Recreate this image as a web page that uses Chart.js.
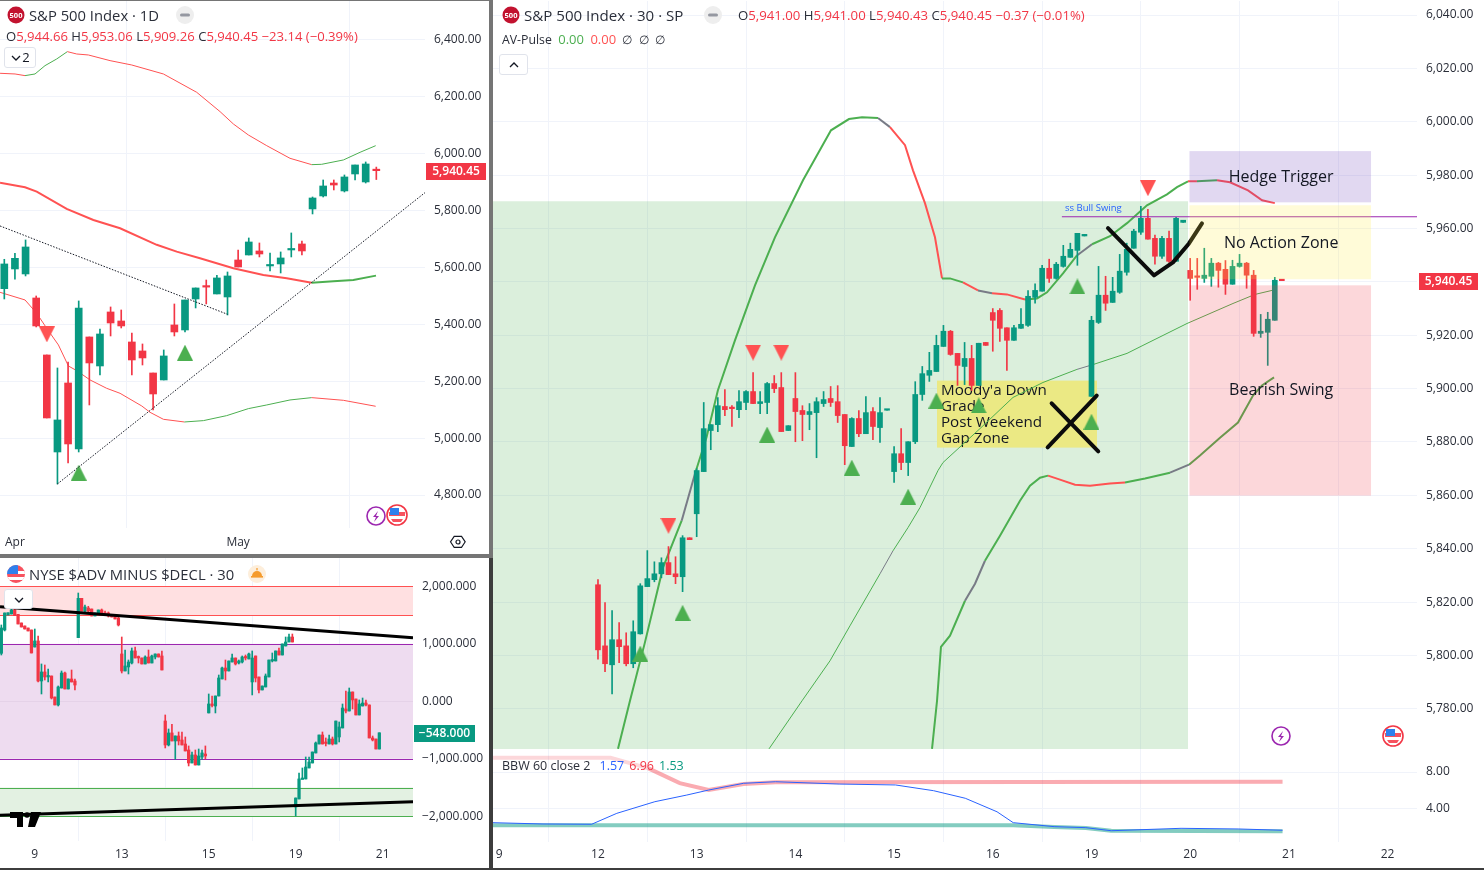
<!DOCTYPE html>
<html>
<head>
<meta charset="utf-8">
<script src="https://cdn.jsdelivr.net/npm/chart.js@4/dist/chart.umd.js"></script>
<style>
  html, body { margin: 0; padding: 0; width: 1484px; height: 870px; overflow: hidden; background: #3d3d3d; font-family: "Open Sans", "Noto Sans", sans-serif; }
  .panel { position: absolute; background: #fff; }
  .edge { position: absolute; background: #757575; }
  canvas { position: absolute; }
  .t { position: absolute; white-space: nowrap; color: #131722; line-height: 16px; }
  .big { font-size: 14.8px; color: #2a2e39; }
  .ohlc { font-size: 13.2px; color: #f23645; }
  .ohlc b { font-weight: 400; color: #2a2e39; }
  .btn { position: absolute; background: #fff; border: 1px solid #e0e3eb; border-radius: 3px; box-sizing: border-box; font-size: 13px; color: #131722; text-align: center; }
  svg { position: absolute; overflow: visible; }
</style>
</head>
<body>
<div class="edge" style="left:0;top:0;width:493px;height:1px"></div>
<div class="edge" style="left:489px;top:0;width:4px;height:558px"></div>
<div class="edge" style="left:0;top:554px;width:489px;height:4px"></div>
<div class="panel" style="left:0;top:1px;width:489px;height:553px"></div>
<div class="panel" style="left:0;top:558px;width:489px;height:310px"></div>
<div class="panel" style="left:493px;top:0;width:991px;height:868px"></div>

<canvas id="dayChart" width="489" height="553" style="left:0;top:1px"></canvas>
<canvas id="nyseChart" width="489" height="310" style="left:0;top:558px"></canvas>
<canvas id="mainChart" width="991" height="748" style="left:493px;top:1px"></canvas>
<canvas id="bbwChart" width="991" height="119" style="left:493px;top:749px"></canvas>

<!-- top left legend -->
<svg style="left:7px;top:6px" width="18" height="18"><circle cx="9" cy="9" r="8.5" fill="#c2122f"/><text x="9" y="12" font-size="7.5" font-weight="700" fill="#fff" text-anchor="middle" font-family="Open Sans">500</text></svg>
<div class="t big" style="left:29px;top:7px">S&amp;P 500 Index · 1D</div>
<svg style="left:176px;top:6px" width="18" height="18"><circle cx="9" cy="9" r="9" fill="#eeeeee"/><rect x="4" y="7.5" width="10" height="3" rx="1.5" fill="#9598a1"/></svg>
<div class="t ohlc" style="left:6px;top:28px;font-size:13.1px"><b>O</b>5,944.66 <b>H</b>5,953.06 <b>L</b>5,909.26 <b>C</b>5,940.45 −23.14 (−0.39%)</div>
<div class="btn" style="left:4px;top:47px;width:32px;height:21px;line-height:19px">
  <svg style="left:6px;top:7px" width="10" height="6"><path d="M1 1l4 4 4-4" fill="none" stroke="#131722" stroke-width="1.3"/></svg><span style="margin-left:12px">2</span></div>
<svg style="left:366px;top:505px" width="20" height="22"><circle cx="10" cy="11" r="9" fill="#fff" stroke="#9c27b0" stroke-width="1.6"/><path d="M12 6l-5 6h3l-2 5 5-6h-3z" fill="#9c27b0"/></svg>
<svg id="flagA" style="left:386px;top:504px" width="22" height="22"><circle cx="11" cy="11" r="10" fill="#fff" stroke="#f23645" stroke-width="1.6"/><rect x="3" y="8" width="16" height="4" fill="#f7525f"/><path d="M5 15h12l-2 3h-8z" fill="#f7525f"/><rect x="4" y="4" width="9" height="7" fill="#2f80ed"/></svg>
<svg style="left:450px;top:534px" width="16" height="16"><path d="M4 2h8l4 6-4 6h-8l-4-6z" transform="translate(.5 .5) scale(.92)" fill="none" stroke="#131722" stroke-width="1.2"/><circle cx="8" cy="8" r="2" fill="none" stroke="#131722" stroke-width="1.2"/></svg>

<!-- bottom left legend -->
<svg style="left:7px;top:565px" width="18" height="18"><clipPath id="fc"><circle cx="9" cy="9" r="9"/></clipPath><g clip-path="url(#fc)"><rect width="18" height="18" fill="#f7525f"/><rect y="6" width="18" height="3" fill="#fff"/><rect y="12" width="18" height="3" fill="#fff"/><rect width="11" height="9" fill="#2f80ed"/></g></svg>
<div class="t big" style="left:29px;top:566px">NYSE $ADV MINUS $DECL · 30</div>
<svg style="left:248px;top:565px" width="18" height="18"><circle cx="9" cy="9" r="9" fill="#fdeedb"/><path d="M4 11a5 5 0 0 1 10 0z" fill="#f59b2c"/><rect x="3" y="11" width="12" height="1.6" fill="#f59b2c"/><rect x="8.4" y="3" width="1.2" height="2.4" fill="#f59b2c"/></svg>
<div class="btn" style="left:4px;top:589px;width:29px;height:20px">
  <svg style="left:9px;top:7px" width="10" height="6"><path d="M1 1l4 4 4-4" fill="none" stroke="#131722" stroke-width="1.3"/></svg></div>
<svg style="left:10px;top:812px" width="31" height="15"><path d="M0 0h13v15h-6v-9h-7z M21 0h10l-6 15h-7z" fill="#000"/><circle cx="17" cy="3" r="2.8" fill="#000"/></svg>

<!-- main legend -->
<svg style="left:502px;top:6px" width="18" height="18"><circle cx="9" cy="9" r="8.5" fill="#c2122f"/><text x="9" y="12" font-size="7.5" font-weight="700" fill="#fff" text-anchor="middle" font-family="Open Sans">500</text></svg>
<div class="t big" style="left:524px;top:7px;font-size:15.1px">S&amp;P 500 Index · 30 · SP</div>
<svg style="left:704px;top:6px" width="18" height="18"><circle cx="9" cy="9" r="9" fill="#eeeeee"/><rect x="4" y="7.5" width="10" height="3" rx="1.5" fill="#9598a1"/></svg>
<div class="t ohlc" style="left:738px;top:7px"><b>O</b>5,941.00 <b>H</b>5,941.00 <b>L</b>5,940.43 <b>C</b>5,940.45 −0.37 (−0.01%)</div>
<div class="t" style="left:502px;top:31px;font-size:12.3px;color:#2a2e39">AV-Pulse&nbsp; <span style="color:#4caf50;font-size:13px">0.00</span>&nbsp; <span style="color:#ff5252;font-size:13px">0.00</span>&nbsp; ∅&nbsp; ∅&nbsp; ∅</div>
<div class="btn" style="left:499px;top:54px;width:29px;height:21px">
  <svg style="left:9px;top:7px" width="10" height="6"><path d="M1 5l4-4 4 4" fill="none" stroke="#131722" stroke-width="1.3"/></svg></div>
<svg style="left:1271px;top:725px" width="20" height="22"><circle cx="10" cy="11" r="9" fill="#fff" stroke="#9c27b0" stroke-width="1.6"/><path d="M12 6l-5 6h3l-2 5 5-6h-3z" fill="#9c27b0"/></svg>
<svg style="left:1382px;top:725px" width="22" height="22"><circle cx="11" cy="11" r="10" fill="#fff" stroke="#f23645" stroke-width="1.6"/><rect x="3" y="8" width="16" height="4" fill="#f7525f"/><path d="M5 15h12l-2 3h-8z" fill="#f7525f"/><rect x="4" y="4" width="9" height="7" fill="#2f80ed"/></svg>
<div class="t" style="left:502px;top:758px;font-size:12.5px;color:#2a2e39">BBW 60 close 2<span style="color:#2962ff;margin-left:9px">1.57</span><span style="color:#f23645;margin-left:5px">6.96</span><span style="color:#089981;margin-left:5px">1.53</span></div>

<script>
const GREEN = '#089981', RED = '#f23645';
const LINE_GREEN = '#4caf50', LINE_RED = '#ff5252', LINE_GRAY = '#787b86';
const GRID = '#f0f3fa';
const FONT = '"Open Sans", "Noto Sans", sans-serif';

// ---- daily chart (top left)
const dayOpen  = [5525.6,5594.8,5577.2,5492.8,5292.4,4951.3,5193.9,4961.9,5355.7,5253.7,5443.6,5411.9,5338.1,5306.5,5229.1,5204.5,5397.9,5380.3,5489.3,5531.5,5506.9,5496.3,5626.4,5644,5658.1,5605.3,5612.4,5661.6,5682.7,5805.8,5851.5,5897,5869.1,5928.8,5900.7,5944.66];
const dayHigh  = [5628.8,5649.9,5696.8,5499.8,5292.4,5246.7,5267.8,5482.3,5355.7,5383.8,5461.2,5450.6,5369.8,5331.1,5229.1,5310,5471.7,5485.8,5528,5556,5572.5,5584.2,5661.6,5703.8,5686.2,5651,5654.6,5721.4,5693.2,5847.9,5907.7,5907.7,5925.3,5960.5,5971,5953.06];
const dayLow   = [5489.3,5558.5,5570.2,5390.9,5070.9,4838.8,4912.7,4951.3,5116.6,5222.1,5359.2,5387.3,5222.1,5257.2,5099,5204.5,5359.2,5373.3,5457.7,5471.7,5506.9,5433,5601.8,5644,5637,5587.8,5580.7,5637,5644,5788.2,5847.9,5872.6,5865.5,5907.7,5897,5909.26];
const dayClose = [5612.4,5632.3,5672.1,5394.4,5070.9,5063.9,4979.5,5457.6,5264.3,5366.2,5404.9,5394.4,5274.8,5281.9,5155.3,5288.9,5373.3,5485.8,5528,5531,5563.2,5570.2,5601.8,5689.7,5647.5,5609,5633.5,5665,5658.1,5844.4,5886.6,5890,5918.3,5960.5,5964,5940.45];
const dayTickIdx = [1, 22];
const dayTickLabels = ['Apr', 'May'];
const dayPriceTicks = [4800, 5000, 5200, 5400, 5600, 5800, 6000, 6200, 6400];
const dayUpperIdx = [-0.4,1.01,1.95,2.89,3.83,4.93,5.93,6.81,7.91,9.95,11.99,14.97,18.1,20.3,21.55,22.96,24.69,26.88,28.92,29.86,31.9,33.47,34.94];
const dayUpperVal = [6282.8,6280.4,6274.6,6280.4,6309.7,6333.2,6358.9,6350.7,6347.2,6327.3,6312,6280.4,6216,6148,6104.6,6065.9,6028.3,5983.9,5961.6,5962.8,5978,6005,6028.3];
const dayMidIdx = [-0.4,1.95,3.05,5.87,8.38,10.89,14.34,16.22,18.41,21.55,24.37,26.57,28.92,30.96,32.84,34.97];
const dayMidVal = [5898.3,5881.9,5866.7,5805.8,5767,5737.8,5679.8,5655.7,5632.3,5597.1,5573.7,5562,5546.7,5552,5556,5571.4];
const dayLowerIdx = [-0.4,1.95,3.05,3.99,5.09,6.03,6.81,8.07,9.63,10.89,12.93,13.71,14.97,16.94,18.73,20.92,22.96,24.69,26.88,28.92,31.9,34.94];
const dayLowerVal = [5512.7,5485.8,5438.9,5386.2,5327.6,5253.7,5237.3,5204.5,5175.2,5157.6,5113.1,5090.8,5066.2,5056.8,5061.5,5079.1,5103.7,5116.6,5134.2,5142.4,5133,5112];
const dayTrendUpIdx = [4.99, 39.58];
const dayTrendUpVal = [4838.8, 5863.2];
const dayTrendDownIdx = [-0.4, 21];
const dayTrendDownVal = [5746, 5435.4];
const dayBuyIdx = [7, 17];
const dayBuyVal = [4878.7, 5300.6];
const daySellIdx = [4];
const daySellVal = [5365];

// ---- breadth chart (bottom left)
const nyseOpen  = [834,1240,1500,1518,1588,1512,1362,1310,1275,1240,944,1049,353,510,423,440,75,-64,231,492,214,388,353,1107,1791,1570,1623,1605,1484,1518,1588,1536,1536,1501,1484,1449,823,527,597,666,875,770,753,649,770,666,770,823,788,-343,-760,-551,-690,-603,-673,-743,-847,-1073,-934,-1108,-969,-917,-203,-47,-82,92,388,579,527,683,753,666,683,770,736,336,788,423,197,249,423,701,701,875,805,962,1031,1118,-1838,-1699,-1351,-1351,-1160,-1073,-899,-743,-586,-708,-743,-656,-743,-621,-464,-134,-169,162,40,-238,-82,-30,-64,-638,-656,-830];
const nyseHigh  = [1327,1536,1540,1620,1600,1512,1362,1310,1275,1240,1257,1136,649,631,562,440,75,266,527,510,388,544,388,1883,1791,1675,1652,1605,1536,1588,1605,1570,1553,1501,1501,1466,1118,892,718,927,944,788,753,790,892,805,823,823,875,-238,-482,-401,-603,-534,-534,-621,-777,-882,-847,-830,-847,-777,127,92,92,457,597,718,701,823,753,718,788,805,840,875,788,423,266,475,718,840,875,927,997,1118,1170,1170,-1682,-1247,-1160,-969,-969,-882,-708,-586,-534,-638,-586,-621,-343,-360,-47,179,231,162,40,23,57,23,-64,-604,-656,-548];
const nyseLow   = [805,1223,1500,1518,1489,1344,1292,1257,1223,840,944,336,127,370,336,40,-64,-82,231,214,214,336,197,1107,1570,1536,1536,1484,1484,1518,1518,1501,1466,1466,1431,1310,492,527,475,649,753,666,649,649,666,666,736,770,544,-812,-777,-690,-1009,-760,-760,-864,-1125,-1073,-1108,-1108,-1009,-1003,-203,-99,-203,92,388,370,527,683,631,649,666,718,736,110,336,144,197,249,423,684,701,805,805,962,1031,1031,-1995,-1699,-1351,-1351,-1160,-1073,-899,-743,-743,-777,-743,-760,-743,-708,-464,-204,-169,-134,-238,-238,-82,-82,-638,-690,-830,-830];
const nyseClose = [1275,1536,1540,1588,1489,1344,1292,1257,1223,840,1049,353,510,423,440,57,-64,249,492,214,388,336,283,1791,1570,1640,1570,1484,1536,1588,1518,1501,1484,1466,1431,1327,527,614,683,875,753,753,649,770,666,788,823,770,544,-760,-551,-690,-603,-690,-760,-864,-1073,-934,-1108,-951,-899,-951,-47,-64,92,405,579,527,701,753,649,701,770,753,823,753,405,197,266,440,718,718,875,805,997,1031,1118,1031,-1682,-1351,-1334,-1143,-1056,-882,-725,-586,-743,-725,-656,-743,-343,-447,-117,-169,162,23,-238,-47,-30,-64,-638,-673,-830,-548];
const nyseFirstIdx = -36;
const nyseTickIdx = [-26, 0, 26, 52, 78];
const nyseTickLabels = ['9', '13', '15', '19', '21'];
const nyseValueTicks = [-2000, -1000, 0, 1000, 2000];
const nyseCeilIdx = [-36.4, 87.07];
const nyseCeilVal = [1645, 1106];
const nyseFloorIdx = [-36.4, 87.07];
const nyseFloorVal = [-1983, -1746];

// ---- 30 min chart (right)
const mainOpen  = [5826.5,5803.6,5796.5,5805.9,5803.6,5796.9,5808.1,5825.8,5828.4,5830.6,5834.8,5830.6,5829.5,5844.1,5853.1,5868.9,5884.3,5886.5,5893.3,5892.9,5892.1,5894.8,5898.9,5894.4,5894.8,5901.9,5900.4,5884.3,5896.3,5891.8,5890.3,5891,5894.4,5896.3,5895.1,5890.3,5878.3,5888.8,5883.1,5891.4,5885.4,5891.9,5868.9,5875.6,5872.3,5880.1,5897.8,5905,5906.4,5915.8,5921.5,5913.2,5908.3,5911.3,5901.2,5917.3,5928.5,5929.3,5922.8,5918.1,5922.6,5923.7,5934.2,5936.5,5945.1,5941.3,5945.8,5949.2,5951.8,5957.2,5897.1,5924.8,5935,5932.3,5936.1,5943.6,5952.6,5958.6,5963.8,5956.3,5949.6,5956.3,5947.7,5962.3,5944.3,5942.1,5941.3,5942.1,5947,5944.7,5939.1,5945.8,5947,5942.5,5920.7,5921.1,5925.6,5940.7];
const mainHigh  = [5828.4,5819.8,5816.8,5812.3,5808.5,5813,5826.9,5839.3,5835.1,5836.6,5840.8,5837,5844.9,5844.1,5870,5894.8,5886.5,5896.6,5899.6,5893.6,5899.3,5899.3,5906,5898.9,5902.3,5904.9,5906,5886.1,5906,5893.6,5894.4,5896.6,5898.9,5900.8,5901.1,5890.3,5889.1,5891.8,5897,5892.9,5896.6,5892.1,5878.3,5885,5880.1,5902.6,5908.3,5913.6,5920,5923.7,5921.8,5913.2,5917.3,5916.2,5917,5917.3,5930,5930,5922.8,5923.7,5930,5936.7,5939.3,5946.2,5948.5,5947.3,5953.7,5954.5,5958.2,5957.8,5927.1,5945.8,5942.1,5941.7,5950.3,5954.5,5959.7,5968.3,5967.2,5957.5,5957.1,5959,5964.2,5963.1,5948.8,5948.8,5952.6,5948.8,5947.3,5948,5948.1,5950.3,5947.3,5944.3,5927.8,5928.6,5941.7,5940.7];
const mainLow   = [5798.6,5793.9,5785.6,5797.3,5796.1,5795.4,5808,5825.8,5827.6,5829.1,5830.3,5826.9,5823.9,5843.4,5844.5,5868.9,5877.1,5883.9,5889.9,5885.8,5889.1,5892.1,5894.4,5890.6,5890.6,5898.5,5883.9,5884.3,5880.1,5880.5,5884.6,5874.1,5893.3,5893.3,5887.3,5871.5,5878.3,5882,5883.1,5880.9,5879.8,5891.9,5864.8,5869.6,5867.4,5879.4,5895.6,5902.7,5906.4,5915.8,5912.5,5901.2,5901.5,5899.3,5901.2,5916.2,5914,5917.7,5906.8,5918.1,5922.6,5923.3,5932,5936.5,5939.8,5941,5945.5,5949.2,5946.2,5957.2,5897.1,5924.4,5929.3,5932.3,5935.7,5942.5,5952.6,5957.8,5956,5946.6,5948.8,5947.3,5947.7,5962.3,5933.1,5937.2,5939.8,5938.3,5938,5935.3,5939.1,5945.5,5937.6,5919.6,5919.2,5908.7,5925.6,5940.43];
const mainClose = [5802.1,5796.9,5805.9,5803.3,5796.9,5808.9,5826.1,5828.8,5830.6,5834.8,5830.3,5829.5,5844.1,5843.4,5869.3,5885,5886.5,5893.6,5892.1,5892.5,5895.1,5898.9,5894.4,5895.1,5901.9,5900,5883.9,5886.1,5891.4,5890.3,5891.4,5895.1,5895.9,5894.8,5889.9,5878.6,5888.8,5883.1,5891,5885.8,5891,5892.1,5875.6,5872.3,5880.1,5897.8,5905.6,5906.8,5916.2,5921.5,5912.8,5908.7,5911.3,5901.2,5917,5916.2,5925.6,5922.6,5918.1,5922.8,5924.1,5934.6,5936.8,5945.1,5941.3,5946.6,5949.6,5952.2,5958.2,5957.8,5925.6,5935,5932,5936.5,5944,5952.2,5959,5963.8,5956,5949.6,5956.3,5947.7,5963.8,5963.1,5941.3,5941.7,5942.5,5947,5944.3,5939.1,5945.8,5947,5942.5,5920.7,5921.5,5926,5940.6,5940.45];
const mainPriceTicks = [5780,5800,5820,5840,5860,5880,5900,5920,5940,5960,5980,6000,6020,6040];
const mainTickIdx = [-14, 0, 14, 28, 42, 56, 70, 84, 98, 112];
const mainTickLabels = ['9', '12', '13', '14', '15', '16', '19', '20', '21', '22'];
const upperIdx = [2.84,4.54,6.67,9.22,11.87,13.76,15.4,17,19.43,22.27,25.1,29.08,33.05,35.6,37.45,39.72,41.42,43.55,44.68,46.38,47.8,48.8,49.93,51.77,53.9,55.89,58.01,60.57,62.27,63.69,65.96,67.94,70.07,72.62,75.04,77.87,80.71,82.13,83.69,84.96,87.8,89.65,92.2,94.2,96];
const upperVal = [5765,5783,5805,5832.9,5850.5,5868.1,5881.8,5899.3,5918.1,5938.7,5956.7,5978.1,5996.8,6001,6001.7,6001.4,5998,5991.2,5981.8,5969.5,5956.7,5941.3,5941.3,5939.8,5936.8,5935.7,5935.3,5933.4,5933.8,5936.1,5943.2,5949.9,5954.1,5957.1,5962,5968.7,5972.8,5975.5,5977.7,5977.7,5978.1,5977.3,5974.3,5970.6,5969.5];
const upperBreaks = [11.87,13.76,25.5,29.08,39.72,41.42,48.8,51,53.9,55.89,60.57,67.94,70.07,83.69,84.96,87.8];
const upperTrend = ['g','n','g','n','g','n','r','g','r','n','r','g','n','g','r','g','r'];
const basisIdx = [24.26,28.94,32.91,35.74,40,41.84,43.97,45.67,48.23,48.94,54.18,58.87,63.12,67.94,70.21,75.04,77.3,83.55,90.07,93.19,95.6];
const basisVal = [5765,5783,5798,5811.1,5830.6,5839.2,5847.9,5855.4,5869.3,5872.3,5885,5896.7,5902.3,5907.2,5909,5913.2,5916.2,5924.4,5931.9,5935.3,5936.8];
const basisBreaks = [40,41.84,67.94,70.21,79,83.55];
const basisTrend = ['g','n','g','n','g','n','g'];
const lowerIdx = [47.38,48.09,48.65,49.93,52.06,53.48,54.89,57.02,59.86,61.28,62.7,63.83,65.53,67.66,69.79,72.62,74.75,77.59,81.13,83.83,85.39,88.23,90.78,92.91,94.18,95.89];
const lowerVal = [5765,5783,5803.2,5807.4,5820.5,5826.9,5835.5,5844.9,5858,5863.6,5866.6,5867.4,5865.9,5864,5863.6,5864.4,5864.8,5866.3,5868.5,5871.5,5874.9,5881.6,5887.3,5897.4,5901.2,5904.2];
const lowerBreaks = [52.06,54.89,63.83,74.75,81.13,83.83];
const lowerTrend = ['g','n','g','r','g','n','g'];
const buyIdx = [6, 12, 24, 36, 44, 48, 54, 68, 70];
const buyVal = [5800.7, 5816, 5882.8, 5870.4, 5859.5, 5895.5, 5893.7, 5938.3, 5887.6];
const sellIdx = [10, 22, 26, 78];
const sellVal = [5848.6, 5913.5, 5913.5, 5975.1];
const checkIdx = [72.34, 78.87, 81.56, 83.83, 85.67];
const checkVal = [5960.1, 5942.4, 5947.3, 5954.4, 5961.9];
const crossAIdx = [64.35, 70.96];
const crossAVal = [5894.5, 5876.5];
const crossBIdx = [63.78, 70.74];
const crossBVal = [5878, 5897.4];
const swingLineIdx = [65.8, 116.17];
const swingLineVal = [5964.4, 5964.4];

// ---- band width pane
const bbwTicks = [4, 8];
const bbwBlueIdx = [-15,-7.8,-0.9,2.67,8.07,12.6,15.7,20.65,25.2,34.2,42.2,47.6,52.1,56.6,58.9,64.7,69.2,72.8,82.7,90.8,97.1];
const bbwBlueVal = [2.52,2.38,2.35,3.53,4.79,5.51,6.05,6.78,6.95,6.7,6.6,5.98,5.16,3.7,2.52,2.09,1.98,1.65,1.91,1.84,1.7];
const bbwHighIdx = [-15,1.77,7.16,11.6,15.7,20.65,25.2,97.1];
const bbwHighVal = [9.55,9.55,8.4,6.8,6.05,6.7,6.89,6.96];
const bbwLowIdx = [-15,58.9,64.7,69.2,72.8,97.1];
const bbwLowVal = [2.23,2.23,2.05,1.95,1.65,1.6];

// drawn by hand on the chart
const zoneNames = ['Hedge Trigger', 'No Action Zone', 'Bearish Swing'];
const zoneNameIdx = [96.9, 96.9, 96.9];
const zoneNameVal = [5979.2, 5954.4, 5899.3];
const moodyLines = ["Moody'a Down", 'Grade', 'Post Weekend', 'Gap Zone'];
const moodyVal = [5899.3, 5893.3, 5887.3, 5881.3];

function pts(xs, ys) {
  return xs.map((x, i) => ({ x: x, y: ys[i] }));
}

function triangleImg(color, down) {
  const c = document.createElement('canvas');
  c.width = 16; c.height = 16;
  const g = c.getContext('2d');
  g.fillStyle = color;
  g.beginPath();
  if (down) { g.moveTo(0, 0); g.lineTo(16, 0); g.lineTo(8, 16); }
  else { g.moveTo(8, 0); g.lineTo(16, 16); g.lineTo(0, 16); }
  g.fill();
  return c;
}
const upImg = triangleImg(LINE_GREEN, false);
const downImg = triangleImg(LINE_RED, true);

function candleSets(open, high, low, close, firstIdx, bodyWidth) {
  const colors = close.map((c, i) => c >= open[i] ? GREEN : RED);
  return [
    { type: 'bar', order: 4, grouped: false, barThickness: 1, backgroundColor: colors,
      data: high.map((h, i) => ({ x: i + firstIdx, y: [low[i], h] })) },
    { type: 'bar', order: 3, grouped: false, barThickness: bodyWidth, minBarLength: 1.5, backgroundColor: colors,
      data: open.map((o, i) => ({ x: i + firstIdx, y: [o, close[i]] })) }
  ];
}

function lineSet(xs, ys, color, width, order, extra) {
  return Object.assign({ type: 'line', order: order, data: pts(xs, ys), borderColor: color, borderWidth: width,
    pointRadius: 0, fill: false, tension: 0 }, extra || {});
}

// marker pen strokes
function penSet(xs, ys) {
  return lineSet(xs, ys, '#0b0b0b', 4, 1, { borderCapStyle: 'round', borderJoinStyle: 'round' });
}

// coloured band line: the trend code changes at the given x positions
function bandSet(xs, ys, breaks, codes, width) {
  const byCode = { g: LINE_GREEN, r: LINE_RED, n: LINE_GRAY };
  return lineSet(xs, ys, LINE_GREEN, width, 5, {
    segment: { borderColor: ctx => {
      const x = ctx.p0.parsed.x;
      let k = 0;
      while (k < breaks.length && x >= breaks[k] - 0.01) k++;
      return byCode[codes[k]];
    } }
  });
}

function markerSet(xs, ys, img) {
  return { type: 'line', order: 2, showLine: false, data: pts(xs, ys), pointStyle: img, pointRadius: 8, pointHoverRadius: 8 };
}

function zonesPlugin(behind, front) {
  function paint(chart, list) {
    const g = chart.ctx, sx = chart.scales.x, sy = chart.scales.y;
    g.save();
    g.beginPath();
    g.rect(chart.chartArea.left, chart.chartArea.top, chart.chartArea.width, chart.chartArea.height);
    g.clip();
    list.forEach(z => {
      const x0 = sx.getPixelForValue(z.x0), x1 = sx.getPixelForValue(z.x1);
      const y0 = sy.getPixelForValue(z.top), y1 = sy.getPixelForValue(z.bottom);
      g.fillStyle = z.fill;
      g.fillRect(x0, y0, x1 - x0, y1 - y0);
      if (z.edge) {
        g.fillStyle = z.edge;
        g.fillRect(x0, Math.round(y0), x1 - x0, 1);
        g.fillRect(x0, Math.round(y1), x1 - x0, 1);
      }
    });
    g.restore();
  }
  return {
    id: 'zones',
    beforeDatasetsDraw(chart) { paint(chart, behind); },
    afterDatasetsDraw(chart) { paint(chart, front); }
  };
}

function lastTagPlugin(value, text, color, left, width) {
  return {
    id: 'lastTag',
    afterDraw(chart) {
      const g = chart.ctx, y = chart.scales.y.getPixelForValue(value);
      g.save();
      g.fillStyle = color;
      g.fillRect(left, Math.round(y) - 8, width, 17);
      g.fillStyle = '#fff';
      g.font = '600 12px ' + FONT;
      g.textAlign = 'center';
      g.textBaseline = 'middle';
      g.fillText(text, left + width / 2, Math.round(y) + 1);
      g.restore();
    }
  };
}

// the Moody note sits under the triangles, the zone names on top of everything
const textPlugin = {
  id: 'zoneText',
  beforeDatasetsDraw(chart) {
    const g = chart.ctx, sx = chart.scales.x, sy = chart.scales.y;
    g.save();
    g.fillStyle = '#131722';
    g.font = '15.2px ' + FONT;
    g.textBaseline = 'middle';
    g.textAlign = 'left';
    moodyLines.forEach((t, i) => g.fillText(t, sx.getPixelForValue(48.65), sy.getPixelForValue(moodyVal[i])));
    g.restore();
  },
  afterDraw(chart) {
    const g = chart.ctx, sx = chart.scales.x, sy = chart.scales.y;
    g.save();
    g.fillStyle = '#131722';
    g.font = '16px ' + FONT;
    g.textBaseline = 'middle';
    g.textAlign = 'center';
    zoneNames.forEach((t, i) => g.fillText(t, sx.getPixelForValue(zoneNameIdx[i]), sy.getPixelForValue(zoneNameVal[i])));
    g.textAlign = 'left';
    g.fillStyle = '#2962ff';
    g.font = '9.5px ' + FONT;
    g.fillText('ss Bull Swing', sx.getPixelForValue(66.24), sy.getPixelForValue(5967.6));
    g.restore();
  }
};

function axes(o) {
  return {
    x: {
      type: 'linear', offset: false, min: o.xMin, max: o.xMax,
      afterBuildTicks: s => { s.ticks = o.xTicks.map(v => ({ value: v })); },
      afterFit: s => { s.height = o.xHeight; s.paddingLeft = 0; s.paddingRight = 0; },
      grid: { color: GRID, drawTicks: false, lineWidth: 1 },
      border: { display: false },
      ticks: {
        display: o.xHeight > 0, autoSkip: false, maxRotation: 0, padding: o.xPad || 5,
        color: '#2a2e39', font: { size: 12, family: FONT },
        callback: v => o.xLabels[o.xTicks.indexOf(v)]
      }
    },
    y: {
      position: 'right', min: o.yMin, max: o.yMax,
      afterBuildTicks: s => { s.ticks = o.yTicks.map(v => ({ value: v })); },
      afterFit: s => { s.width = o.yWidth; s.paddingTop = 0; s.paddingBottom = 0; },
      grid: { display: o.yGrid !== false, color: GRID, drawTicks: false },
      border: { display: false },
      ticks: {
        autoSkip: false, padding: 9, color: '#2a2e39', font: { size: 12, family: FONT },
        callback: o.yFormat
      }
    }
  };
}

function build(id, datasets, scales, plugins) {
  return new Chart(document.getElementById(id), {
    type: 'bar',
    data: { datasets: datasets },
    options: {
      responsive: false, animation: false, events: [],
      layout: { padding: 0, autoPadding: false },
      plugins: { legend: { display: false }, tooltip: { enabled: false } },
      scales: scales
    },
    plugins: plugins
  });
}

const money = v => v.toLocaleString('en-US', { minimumFractionDigits: 2, maximumFractionDigits: 2 });
const breadth = v => v.toLocaleString('en-US', { minimumFractionDigits: 3, maximumFractionDigits: 3 }).replace('-', '−');

// ---- top left
build('dayChart', [
  bandSet(dayUpperIdx, dayUpperVal, [1.95, 5.93, 28.92], ['r', 'g', 'r', 'g'], 1),
  bandSet(dayMidIdx, dayMidVal, [28.92], ['r', 'g'], 2),
  bandSet(dayLowerIdx, dayLowerVal, [16.94, 28.92], ['r', 'g', 'r'], 1),
  ...candleSets(dayOpen, dayHigh, dayLow, dayClose, 0, 7),
  lineSet(dayTrendUpIdx, dayTrendUpVal, '#131722', 1, 1, { borderDash: [1.5, 1.5] }),
  lineSet(dayTrendDownIdx, dayTrendDownVal, '#131722', 1, 1, { borderDash: [1.5, 1.5] }),
  markerSet(dayBuyIdx, dayBuyVal, upImg),
  markerSet(daySellIdx, daySellVal, downImg)
], axes({
  xMin: -0.405, xMax: 39.58, xTicks: dayTickIdx, xLabels: dayTickLabels, xHeight: 26, xPad: 7,
  yMin: 4684, yMax: 6537, yTicks: dayPriceTicks, yWidth: 64, yFormat: money
}), [lastTagPlugin(dayClose[dayClose.length - 1], '5,940.45', RED, 426, 60)]);

// ---- bottom left
const nyseXMin = -36.4, nyseXMax = 87.07;
const nyseZones = [
  { x0: nyseXMin, x1: nyseXMax, top: 2000, bottom: 1500, fill: '#ffe0e1', edge: '#ff5252' },
  { x0: nyseXMin, x1: nyseXMax, top: 1000, bottom: -1000, fill: '#eedcf0', edge: '#9c27b0' },
  { x0: nyseXMin, x1: nyseXMax, top: 1, bottom: 0, fill: '#55305e' },
  { x0: nyseXMin, x1: nyseXMax, top: -1500, bottom: -2000, fill: '#e3f1e2', edge: '#4caf50' }
];
build('nyseChart', [
  ...candleSets(nyseOpen, nyseHigh, nyseLow, nyseClose, nyseFirstIdx, 2.6),
  lineSet(nyseCeilIdx, nyseCeilVal, '#000', 3, 1),
  lineSet(nyseFloorIdx, nyseFloorVal, '#000', 3, 1)
], axes({
  xMin: nyseXMin, xMax: nyseXMax, xTicks: nyseTickIdx, xLabels: nyseTickLabels, xHeight: 27, xPad: 6,
  yMin: -2430, yMax: 2492, yTicks: nyseValueTicks, yWidth: 76, yGrid: false, yFormat: breadth
}), [zonesPlugin(nyseZones, []), lastTagPlugin(nyseClose[nyseClose.length - 1], '−548.000', GREEN, 414, 61)]);

// ---- main chart
const mainXMin = -14.89, mainXMax = 116.17;
const mainBehind = [
  { x0: mainXMin, x1: 83.69, top: 5970.2, bottom: 5700, fill: 'rgba(76,175,80,0.2)' },
  { x0: 48.09, x1: 70.78, top: 5903, bottom: 5877.9, fill: '#ebe984' }
];
const mainFront = [
  { x0: 83.9, x1: 109.65, top: 5989, bottom: 5969.8, fill: 'rgba(103,58,183,0.2)' },
  { x0: 83.9, x1: 109.65, top: 5968.7, bottom: 5941, fill: 'rgba(255,235,59,0.2)' },
  { x0: 83.9, x1: 109.65, top: 5938.7, bottom: 5859.9, fill: 'rgba(242,54,69,0.2)' }
];
build('mainChart', [
  bandSet(upperIdx, upperVal, upperBreaks, upperTrend, 2),
  bandSet(basisIdx, basisVal, basisBreaks, basisTrend, 1),
  bandSet(lowerIdx, lowerVal, lowerBreaks, lowerTrend, 2),
  ...candleSets(mainOpen, mainHigh, mainLow, mainClose, 0, 5),
  markerSet(buyIdx, buyVal, upImg),
  markerSet(sellIdx, sellVal, downImg),
  lineSet(swingLineIdx, swingLineVal, '#9c27b0', 1, 1),
  penSet(checkIdx, checkVal),
  penSet(crossAIdx, crossAVal),
  penSet(crossBIdx, crossBVal)
], axes({
  xMin: mainXMin, xMax: mainXMax, xTicks: mainTickIdx, xLabels: mainTickLabels, xHeight: 0,
  yMin: 5764.95, yMax: 6045.25, yTicks: mainPriceTicks, yWidth: 67, yFormat: money
}), [zonesPlugin(mainBehind, mainFront), textPlugin, lastTagPlugin(mainClose[mainClose.length - 1], '5,940.45', RED, 926, 59)]);

// ---- band width pane
build('bbwChart', [
  lineSet(bbwHighIdx, bbwHighVal, 'rgba(242,54,69,0.42)', 4, 6, {
    segment: { borderColor: ctx => ctx.p0.parsed.x < 7 ? 'rgba(242,54,69,0.2)' : 'rgba(242,54,69,0.42)' } }),
  lineSet(bbwLowIdx, bbwLowVal, 'rgba(8,153,129,0.5)', 4, 5),
  lineSet(bbwBlueIdx, bbwBlueVal, '#2962ff', 1, 1)
], axes({
  xMin: mainXMin, xMax: mainXMax, xTicks: mainTickIdx, xLabels: mainTickLabels, xHeight: 26, xPad: 5,
  yMin: 0.43, yMax: 10.49, yTicks: bbwTicks, yWidth: 67, yFormat: v => v.toFixed(2)
}), []);
</script>
</body>
</html>
